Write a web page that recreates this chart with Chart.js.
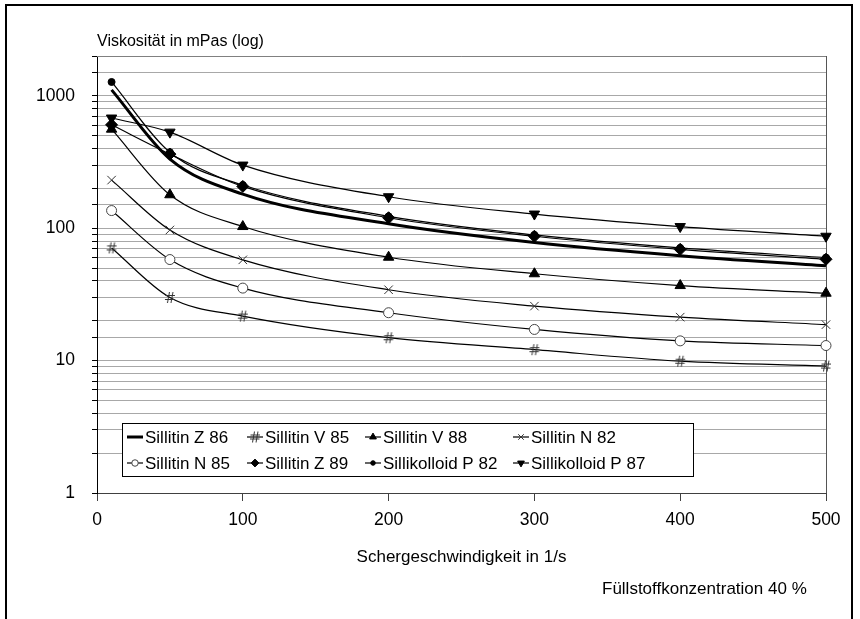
<!DOCTYPE html>
<html>
<head>
<meta charset="utf-8">
<script src="https://cdn.jsdelivr.net/npm/chart.js@4.4.1/dist/chart.umd.min.js"></script>
<style>
html, body { margin: 0; padding: 0; background: #fff; }
#wrap { position: relative; width: 860px; height: 619px; overflow: hidden; font-family: "Liberation Sans", Arial, sans-serif; color: #000; }
#rahmen { position: absolute; left: 5px; top: 4px; width: 844px; height: 700px; border: 2px solid #000; }
canvas { position: absolute; left: 0; top: 0; }
.text { position: absolute; white-space: nowrap; }
</style>
</head>
<body>
<div id="wrap">
  <div id="rahmen"></div>
  <canvas id="grafico" width="860" height="619"></canvas>
  <div class="text" style="left:97px; top:32px; font-size:16px;">Viskosität in mPas (log)</div>
  <div class="text" style="left:0; width:923px; text-align:center; top:547px; font-size:17px;">Schergeschwindigkeit in 1/s</div>
  <div class="text" style="left:602px; top:579px; font-size:17px;">Füllstoffkonzentration 40 %</div>
</div>
<script>
// Scherraten (x) und Viskositäten (y, mPas)
const schergeschwindigkeit = [10, 50, 100, 200, 300, 400, 500];
const namen = ['Sillitin Z 86', 'Sillitin V 85', 'Sillitin V 88', 'Sillitin N 82',
               'Sillitin N 85', 'Sillitin Z 89', 'Sillikolloid P 82', 'Sillikolloid P 87'];
const sillitinZ86 = [1110, 333, 181, 108, 78, 62, 52];
const sillitinV85 = [71, 30, 21.7, 14.9, 12.1, 9.9, 9.1];
const sillitinV88 = [560, 179, 103, 60.4, 45.3, 36.9, 32.3];
const sillitinN82 = [231, 97, 57.7, 34.3, 25.8, 21.3, 18.7];
const sillitinN85 = [136, 58, 35.3, 23, 17.2, 14.1, 13];
const sillitinZ89 = [604, 363, 207, 120, 87, 69.3, 58.3];
const sillikolloidP82 = [1273, 375, 212, 123, 89, 71, 60];
const sillikolloidP87 = [680, 532, 300, 173, 128, 103, 87];
const yMin = 1, yMax = 2000;
const dekaden = [1, 10, 100, 1000];

const schrift = '"Liberation Sans", Arial, sans-serif';

// Marker "#" als kleines Canvas
function rauteMarker() {
    const c = document.createElement('canvas');
    c.width = 12; c.height = 13;
    const g = c.getContext('2d');
    g.strokeStyle = '#333';
    g.lineWidth = 1;
    g.beginPath();
    g.moveTo(5.5, 1); g.lineTo(3.5, 12);
    g.moveTo(9, 1); g.lineTo(7, 12);
    g.moveTo(1.5, 4.5); g.lineTo(11, 4.5);
    g.moveTo(1, 8.5); g.lineTo(10.5, 8.5);
    g.stroke();
    return c;
}
const raute = rauteMarker();

function punkte(werte) {
    return werte.map((v, i) => ({ x: schergeschwindigkeit[i], y: v }));
}

function serie(idx, werte, stil) {
    return Object.assign({
        label: namen[idx],
        data: punkte(werte),
        borderColor: '#000',
        borderWidth: 1.2,
        backgroundColor: '#000',
        pointBorderColor: '#000',
        pointBorderWidth: 1,
        pointRadius: 5,
        cubicInterpolationMode: 'monotone',
        clip: false
    }, stil);
}

const datensaetze = [
    serie(0, sillitinZ86, { borderWidth: 3, pointRadius: 0 }),
    serie(1, sillitinV85, { pointStyle: raute }),
    serie(2, sillitinV88, { pointStyle: 'triangle', pointRadius: 6 }),
    serie(3, sillitinN82, { pointStyle: 'crossRot', pointRadius: 6, pointBorderColor: '#333' }),
    serie(4, sillitinN85, { pointStyle: 'circle', pointRadius: 5, backgroundColor: '#fff', pointBorderColor: '#444' }),
    serie(5, sillitinZ89, { pointStyle: 'rectRot', pointRadius: 6 }),
    serie(6, sillikolloidP82, { pointStyle: 'circle', pointRadius: 3.5 }),
    serie(7, sillikolloidP87, { pointStyle: 'triangle', rotation: 180, pointRadius: 6 })
];

// Rahmen oben / rechts der Zeichenfläche
const rahmenPlugin = {
    id: 'rahmenPlugin',
    beforeDatasetsDraw(chart) {
        const { ctx, chartArea: a } = chart;
        ctx.save();
        ctx.lineWidth = 1;
        ctx.strokeStyle = '#808080';
        ctx.beginPath();
        ctx.moveTo(a.left, a.top + 0.5); ctx.lineTo(a.right, a.top + 0.5);
        ctx.stroke();
        ctx.strokeStyle = '#555';
        ctx.beginPath();
        ctx.moveTo(a.right + 0.5, a.top); ctx.lineTo(a.right + 0.5, a.bottom);
        ctx.stroke();
        ctx.restore();
    }
};

// Legende innerhalb der Zeichenfläche
const legendePlugin = {
    id: 'legendePlugin',
    afterDraw(chart) {
        const ctx = chart.ctx;
        const box = { x: 122, y: 423, w: 571, h: 53 };
        const spalten = [127, 247, 365, 513];
        const zeilen = [437, 463];
        ctx.save();
        ctx.fillStyle = '#fff';
        ctx.fillRect(box.x, box.y, box.w, box.h);
        ctx.strokeStyle = '#000';
        ctx.lineWidth = 1;
        ctx.strokeRect(box.x + 0.5, box.y + 0.5, box.w, box.h);
        chart.data.datasets.forEach((ds, i) => {
            const x = spalten[i % 4];
            const y = zeilen[Math.floor(i / 4)];
            ctx.strokeStyle = '#000';
            ctx.lineWidth = ds.borderWidth;
            ctx.beginPath();
            ctx.moveTo(x, y); ctx.lineTo(x + 16, y);
            ctx.stroke();
            if (ds.pointRadius > 0) {
                ctx.fillStyle = ds.backgroundColor;
                ctx.strokeStyle = ds.pointBorderColor;
                ctx.lineWidth = 1;
                const r = ds.pointStyle === raute ? 5 : ds.pointRadius * 0.65;
                Chart.helpers.drawPoint(ctx, {
                    pointStyle: ds.pointStyle,
                    rotation: ds.rotation || 0,
                    radius: r,
                    borderWidth: 1
                }, x + 8, y);
            }
            ctx.fillStyle = '#000';
            ctx.font = '17px ' + schrift;
            ctx.textBaseline = 'middle';
            ctx.fillText(ds.label, x + 18, y + 1);
        });
        ctx.restore();
    }
};

new Chart(document.getElementById('grafico'), {
    type: 'line',
    data: { datasets: datensaetze },
    options: {
        responsive: false,
        animation: false,
        devicePixelRatio: 1,
        layout: { autoPadding: false, padding: { top: 56, right: 34, left: 0, bottom: 0 } },
        plugins: { legend: { display: false }, tooltip: { enabled: false } },
        scales: {
            x: {
                type: 'linear', min: 0, max: 500,
                border: { color: '#404040', width: 1 },
                grid: { drawOnChartArea: false, drawTicks: true, tickLength: 8, tickColor: '#404040' },
                ticks: { stepSize: 100, padding: 9, color: '#000', font: { family: schrift, size: 17.5 } },
                afterFit(s) { s.height = 126; }
            },
            y: {
                type: 'logarithmic', min: yMin, max: yMax,
                border: { color: '#000', width: 1 },
                grid: { color: '#a8a8a8', lineWidth: 1, tickColor: '#000', tickLength: 5 },
                ticks: {
                    autoSkip: false, padding: 17, color: '#000',
                    font: { family: schrift, size: 17.5 },
                    callback: v => dekaden.some(d => Math.abs(d - v) < 1e-6) ? String(Math.round(v)) : ''
                },
                afterFit(s) { s.width = 97; }
            }
        }
    },
    plugins: [rahmenPlugin, legendePlugin]
});
</script>
</body>
</html>
